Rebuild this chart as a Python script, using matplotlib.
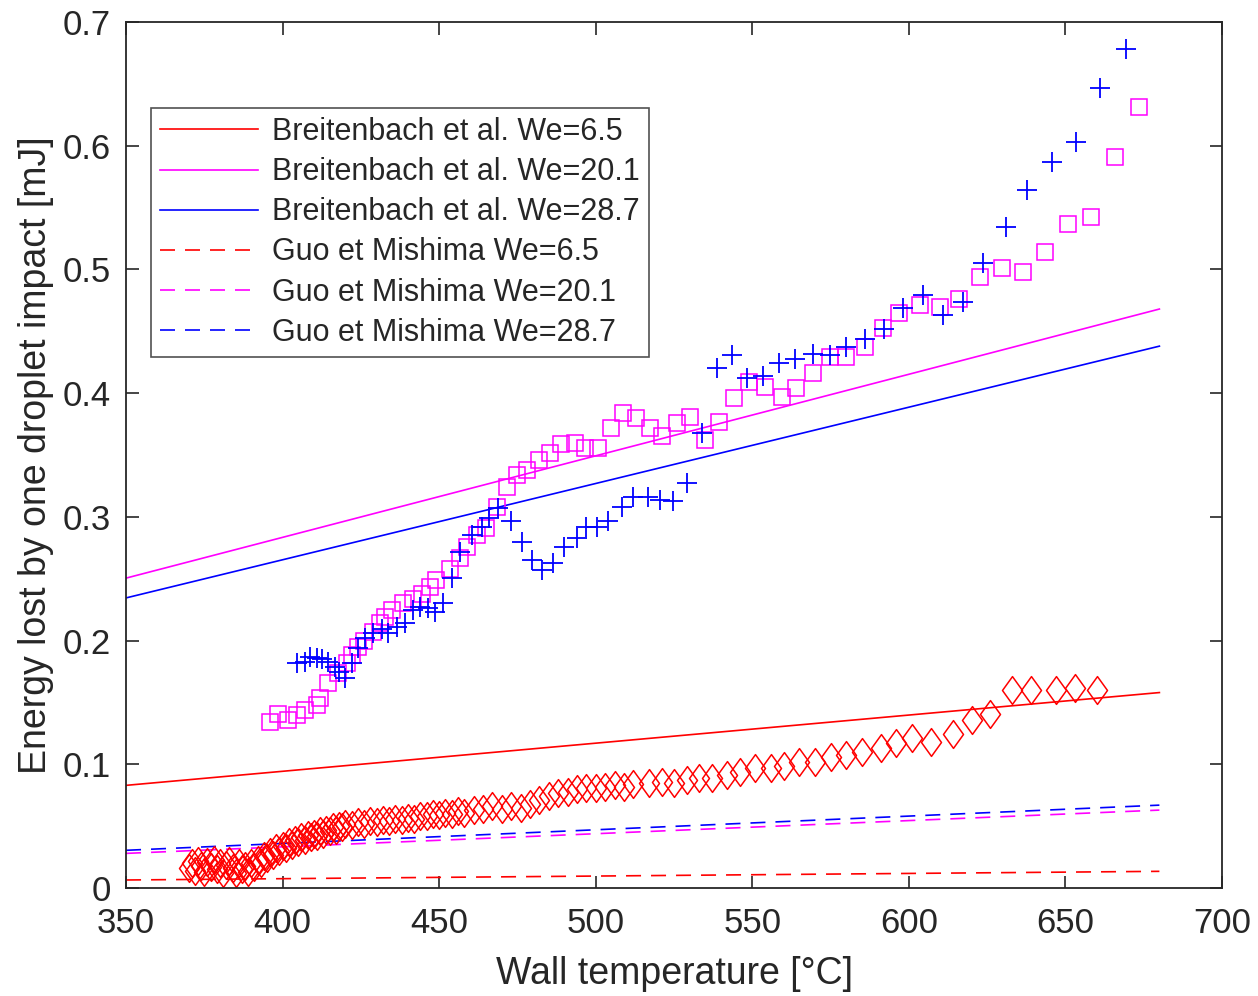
import numpy as np
import matplotlib
matplotlib.use("Agg")
import matplotlib.pyplot as plt
from matplotlib.path import Path

plt.rcParams["font.family"] = ["Liberation Sans", "DejaVu Sans"]

# Model curves (linear in wall temperature)
t_model = [350, 680]
breit_65 = [0.083, 0.158]
breit_201 = [0.2505, 0.468]
breit_287 = [0.2345, 0.438]
guo_65 = [0.0065, 0.0135]
guo_201 = [0.028, 0.063]
guo_287 = [0.0305, 0.067]

# Measurements, We=6.5
t_65 = [370, 371, 372, 373, 374, 375, 376, 377, 378, 379, 380, 381, 382, 383,
        384, 385, 386, 387, 388, 389, 390, 391, 392, 393, 394, 395, 396, 397,
        398, 399, 400, 401, 402, 403, 404, 405, 406, 407, 408, 409, 410, 411,
        412, 413, 414, 415, 416, 417, 418, 419, 420, 422, 424, 426, 428, 430,
        432, 434, 436, 438, 440, 442, 444, 446, 448, 450, 452, 454, 456, 458,
        461, 464, 467, 470, 473, 476, 479, 482, 485, 488, 491, 494, 497, 500,
        503, 506, 509, 512, 517, 521, 525, 529, 533, 537, 542, 546, 551, 556,
        560, 565, 570, 575, 580, 585, 591, 596, 601, 607, 614, 620, 626, 633,
        639, 647, 653, 660]
e_65 = [0.016, 0.020, 0.014, 0.022, 0.018, 0.013, 0.021, 0.017, 0.023, 0.015,
        0.020, 0.012, 0.019, 0.022, 0.016, 0.012, 0.020, 0.015, 0.018, 0.013,
        0.020, 0.017, 0.023, 0.020, 0.026, 0.024, 0.029, 0.027, 0.032, 0.030,
        0.034, 0.032, 0.037, 0.035, 0.039, 0.037, 0.041, 0.039, 0.043, 0.041,
        0.044, 0.042, 0.046, 0.044, 0.047, 0.046, 0.049, 0.047, 0.050, 0.049,
        0.052, 0.051, 0.053, 0.052, 0.054, 0.053, 0.055, 0.054, 0.056, 0.055,
        0.057, 0.056, 0.058, 0.058, 0.060, 0.059, 0.061, 0.060, 0.062, 0.061,
        0.063, 0.064, 0.066, 0.064, 0.066, 0.065, 0.068, 0.071, 0.074, 0.077,
        0.078, 0.080, 0.081, 0.081, 0.082, 0.083, 0.082, 0.084, 0.085, 0.086,
        0.085, 0.087, 0.089, 0.089, 0.091, 0.094, 0.097, 0.097, 0.099, 0.102,
        0.102, 0.106, 0.1075, 0.110, 0.113, 0.117, 0.121, 0.118, 0.1245, 0.136,
        0.141, 0.160, 0.160, 0.160, 0.162, 0.160]

# Measurements, We=20.1
t_201 = [396, 398.5, 401.7, 404.6, 407, 411, 412, 414.5, 417.7, 420.6, 422,
         424, 426, 429, 431, 432.7, 435, 438.5, 441.7, 444.5, 447, 449, 453.5,
         456.7, 459, 462, 465, 468.5, 471.7, 475, 478, 482, 485.4, 489, 493.4,
         496.6, 500.8, 505, 508.8, 513, 517.4, 521, 526, 530, 535, 539.5, 544,
         549, 554, 559.5, 564, 569.4, 574.8, 580, 586, 591.8, 597, 603.6, 610,
         616, 622.8, 629.7, 636.5, 643.5, 650.9, 658, 665.9, 673.5]
e_201 = [0.134, 0.141, 0.136, 0.140, 0.144, 0.148, 0.154, 0.166, 0.174, 0.182,
         0.188, 0.195, 0.200, 0.207, 0.214, 0.219, 0.225, 0.230, 0.234, 0.238,
         0.243, 0.249, 0.258, 0.267, 0.276, 0.285, 0.291, 0.308, 0.324, 0.334,
         0.338, 0.346, 0.352, 0.359, 0.360, 0.356, 0.356, 0.372, 0.384, 0.380,
         0.372, 0.365, 0.376, 0.381, 0.362, 0.377, 0.396, 0.409, 0.405, 0.397,
         0.404, 0.416, 0.429, 0.429, 0.437, 0.453, 0.465, 0.471, 0.470, 0.476,
         0.494, 0.501, 0.498, 0.514, 0.537, 0.542, 0.591, 0.631]

# Measurements, We=28.7
t_287 = [404.6, 407, 408.8, 411, 412.6, 414.5, 416.8, 418, 420, 422, 424,
         426.3, 429, 431.7, 433.7, 436.5, 439, 441.7, 444, 446.5, 448.7, 451.3,
         454, 456.7, 460.5, 463.7, 466, 468.8, 473, 476.5, 479.7, 482.8, 486.4,
         490, 494, 497, 500.4, 504, 508.4, 512, 516.7, 520.5, 524.7, 529, 534,
         538.6, 543.5, 548.3, 553.4, 558.6, 563.7, 569.4, 574.8, 580, 586, 592,
         598, 604.6, 611, 617.3, 623.7, 631, 637.8, 645.7, 653.4, 661, 669.4]
e_287 = [0.182, 0.183, 0.187, 0.186, 0.185, 0.183, 0.179, 0.175, 0.170, 0.182,
         0.194, 0.202, 0.206, 0.209, 0.206, 0.211, 0.214, 0.225, 0.227, 0.226,
         0.223, 0.230, 0.251, 0.272, 0.285, 0.292, 0.299, 0.307, 0.297, 0.280,
         0.265, 0.257, 0.263, 0.276, 0.283, 0.292, 0.292, 0.297, 0.308, 0.316,
         0.316, 0.314, 0.313, 0.327, 0.368, 0.420, 0.431, 0.412, 0.414, 0.424,
         0.428, 0.432, 0.431, 0.437, 0.444, 0.452, 0.469, 0.479, 0.463, 0.474,
         0.505, 0.534, 0.564, 0.587, 0.603, 0.647, 0.678]

RED = "#FF0000"
MAGENTA = "#FF00FF"
BLUE = "#0000FF"
AXIS = "#262626"

# tall diamond, like MATLAB's 'd'
diamond = Path([(0, 1), (0.72, 0), (0, -1), (-0.72, 0), (0, 1)],
               [Path.MOVETO, Path.LINETO, Path.LINETO, Path.LINETO, Path.CLOSEPOLY])

fig = plt.figure(figsize=(12.58, 9.96), dpi=100)
ax = fig.add_axes([0.1002, 0.1084, 0.8712, 0.8695])

ax.plot(t_model, breit_65, "-", color=RED, lw=1.2, label="Breitenbach et al. We=6.5")
ax.plot(t_model, breit_201, "-", color=MAGENTA, lw=1.2, label="Breitenbach et al. We=20.1")
ax.plot(t_model, breit_287, "-", color=BLUE, lw=1.2, label="Breitenbach et al. We=28.7")
ax.plot(t_model, guo_65, "--", color=RED, lw=1.2, dashes=(9, 6), label="Guo et Mishima We=6.5")
ax.plot(t_model, guo_201, "--", color=MAGENTA, lw=1.2, dashes=(9, 6), label="Guo et Mishima We=20.1")
ax.plot(t_model, guo_287, "--", color=BLUE, lw=1.2, dashes=(9, 6), label="Guo et Mishima We=28.7")

ax.plot(t_65, e_65, ls="none", marker=diamond, ms=20, mfc="none", mec=RED, mew=1.1)
ax.plot(t_201, e_201, ls="none", marker="s", ms=12, mfc="none", mec=MAGENTA, mew=1.1)
ax.plot(t_287, e_287, ls="none", marker="+", ms=15, mec=BLUE, mew=1.3)

ax.set_xlim(350, 700)
ax.set_ylim(0, 0.7)
ax.set_xticks(np.arange(350, 701, 50))
ax.set_yticks([0, 0.1, 0.2, 0.3, 0.4, 0.5, 0.6, 0.7])
ax.set_yticklabels(["0", "0.1", "0.2", "0.3", "0.4", "0.5", "0.6", "0.7"])

ax.tick_params(direction="in", length=9, width=1.2, colors=AXIS, labelsize=25,
               top=True, right=True)
ax.tick_params(axis="x", pad=14)
ax.tick_params(axis="y", pad=11)
for s in ax.spines.values():
    s.set_color(AXIS)
    s.set_linewidth(1.3)

ax.set_xlabel("Wall temperature [°C]", fontsize=27, color=AXIS, labelpad=11)
ax.set_ylabel("Energy lost by one droplet impact [mJ]", fontsize=27, color=AXIS, labelpad=6)

leg = ax.legend(loc="upper left", bbox_to_anchor=(0.0228, 0.9007), fontsize=22,
                frameon=True, fancybox=False, edgecolor=AXIS, handlelength=3.2,
                handletextpad=0.45, labelspacing=0.33, borderpad=0.3,
                borderaxespad=0)
leg.get_frame().set_linewidth(1.2)
for t in leg.get_texts():
    t.set_color(AXIS)

fig.savefig("out.png", dpi=100)
